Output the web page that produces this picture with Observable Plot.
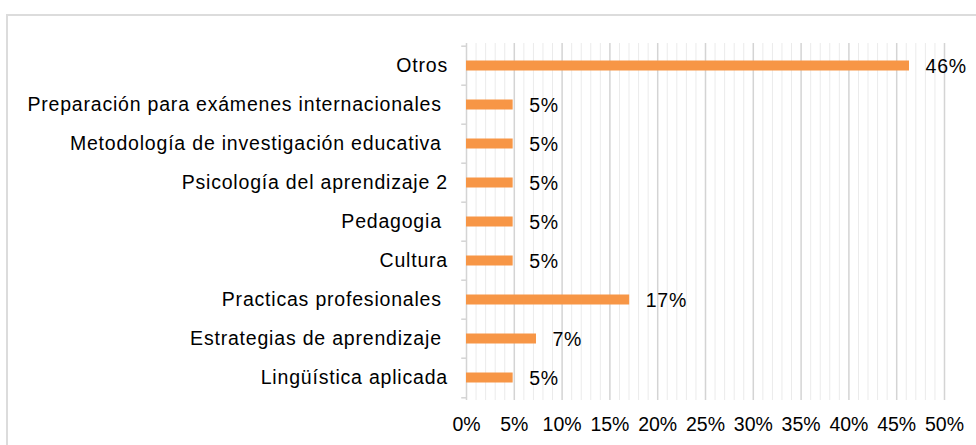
<!DOCTYPE html>
<html>
<head>
<meta charset="utf-8">
<script src="https://cdn.jsdelivr.net/npm/d3@7"></script>
<script src="https://cdn.jsdelivr.net/npm/@observablehq/plot@0.6"></script>
<style>
  html, body { margin: 0; padding: 0; background: #fff; overflow: hidden; }
  #wrap { position: relative; width: 976px; height: 445px; }
  #frame { position: absolute; left: 6px; top: 14px; width: 1000px; height: 500px; border: 2px solid #dcdcdc; box-sizing: border-box; pointer-events: none; }
  #chart svg { display: block; }
  #chart g[aria-label="y-axis tick label"] text { letter-spacing: 0.8px; white-space: pre; }
  #chart g[aria-label="text"] text { letter-spacing: 0.8px; }
</style>
</head>
<body>
<div id="wrap"><div id="chart"></div><div id="frame"></div></div>
<script>
const categories = [
  "Otros",
  "Preparación para exámenes internacionales ",
  "Metodología de investigación educativa ",
  "Psicología del aprendizaje 2",
  "Pedagogia ",
  "Cultura",
  "Practicas profesionales ",
  "Estrategias de aprendizaje ",
  "Lingüística aplicada"
];
const values = [0.4634, 0.0488, 0.0488, 0.0488, 0.0488, 0.0488, 0.1707, 0.0732, 0.0488];
const labels = ["46%", "5%", "5%", "5%", "5%", "5%", "17%", "7%", "5%"];
const majorTicks = [0, 0.05, 0.10, 0.15, 0.20, 0.25, 0.30, 0.35, 0.40, 0.45, 0.50];
const minorTicks = d3.range(0, 51).filter(i => i % 5 !== 0).map(i => i / 100);

const data = categories.map((c, i) => ({cat: c, value: values[i], label: labels[i]}));

const font = "'Liberation Sans', Arial, sans-serif";
const chart = Plot.plot({
  width: 976,
  height: 445,
  marginLeft: 466,
  marginRight: 32,
  marginTop: 43,
  marginBottom: 45,
  style: {fontFamily: font, fontSize: "19.5px", color: "#000", background: "transparent"},
  x: {domain: [0, 0.5], axis: null},
  y: {domain: categories, padding: 0, axis: null},
  marks: [
    Plot.ruleX(minorTicks, {stroke: "#ebebeb", strokeWidth: 1}),
    Plot.ruleX(majorTicks.slice(1), {stroke: "#d4d4d4", strokeWidth: 1.5}),
    Plot.ruleX([0], {stroke: "#d4d4d4", strokeWidth: 1.5}),
    Plot.ruleY(categories, {y: d => d, x1: -0.005, x2: 0, dy: -19.8, stroke: "#d4d4d4", strokeWidth: 1.5}),
    Plot.ruleY(categories.slice(-1), {y: d => d, x1: -0.005, x2: 0, dy: 19.8, stroke: "#d4d4d4", strokeWidth: 1.5}),
    Plot.barX(data, {x: "value", y: "cat", fill: "#F79646", insetTop: 14.5, insetBottom: 14.5}),
    Plot.text(data, {x: "value", y: "cat", text: "label", textAnchor: "start", dx: 16, dy: 1, fill: "#000", fontSize: 19.5}),
    Plot.axisY({tickSize: 0, tickPadding: 18.5, fontSize: 19.5, fill: "#000", label: null}),
    Plot.axisX(majorTicks, {tickSize: 0, tickPadding: 17, tickFormat: d3.format(".0%"), fontSize: 19.5, fill: "#000", label: null})
  ]
});
document.getElementById("chart").append(chart);
</script>
</body>
</html>
